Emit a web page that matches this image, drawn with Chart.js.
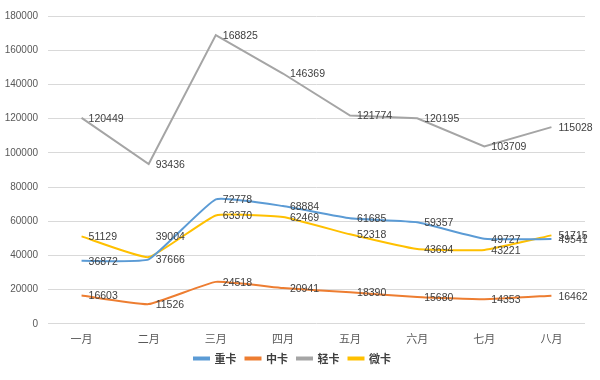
<!DOCTYPE html>
<html>
<head>
<meta charset="utf-8">
<script src="https://cdn.jsdelivr.net/npm/chart.js@4/dist/chart.umd.min.js"></script>
<style>
html,body{margin:0;padding:0;background:#fff;}
#wrap{width:600px;height:380px;}
</style>
</head>
<body>
<div id="wrap"><canvas id="c" width="600" height="380"></canvas></div>
<script>
const months = ['一月','二月','三月','四月','五月','六月','七月','八月'];
const seriesNames = ['重卡','中卡','轻卡','微卡'];
const heavy  = [36872, 37666, 72778, 68884, 61685, 59357, 49727, 49541];
const medium = [16603, 11526, 24518, 20941, 18390, 15680, 14353, 16462];
const light  = [120449, 93436, 168825, 146369, 121774, 120195, 103709, 115028];
const micro  = [51129, 39004, 63370, 62469, 52318, 43694, 43221, 51715];
const yTicks = [0, 20000, 40000, 60000, 80000, 100000, 120000, 140000, 160000, 180000];

const colors = ['#5B9BD5', '#ED7D31', '#A5A5A5', '#FFC000'];
const allSeries = [heavy, medium, light, micro];

const labelPlugin = {
  id: 'valueLabels',
  afterDatasetsDraw(chart) {
    const ctx = chart.ctx;
    ctx.save();
    ctx.font = '10.5px "Liberation Sans", Arial, sans-serif';
    ctx.fillStyle = '#404040';
    ctx.textAlign = 'left';
    ctx.textBaseline = 'middle';
    const nudge = {'3-1': -21};
    chart.data.datasets.forEach((ds, di) => {
      const meta = chart.getDatasetMeta(di);
      meta.data.forEach((pt, i) => {
        const dy = nudge[di + '-' + i] || 0;
        ctx.fillText(String(ds.data[i]), pt.x + 7, pt.y + 1 + dy);
      });
    });
    ctx.restore();
  }
};

new Chart(document.getElementById('c'), {
  type: 'line',
  data: {
    labels: months,
    datasets: allSeries.map((d, i) => ({
      label: seriesNames[i],
      data: d,
      borderColor: colors[i],
      backgroundColor: colors[i],
      borderWidth: 2,
      pointRadius: 0,
      pointHoverRadius: 0,
      tension: i === 2 ? 0 : 0.12,
      fill: false
    }))
  },
  options: {
    responsive: false,
    animation: false,
    devicePixelRatio: 1,
    layout: { padding: { top: 8, right: 15, left: 0, bottom: 6 } },
    plugins: {
      tooltip: { enabled: false },
      legend: {
        position: 'bottom',
        labels: {
          boxWidth: 15,
          boxHeight: 2,
          padding: 9,
          color: '#404040',
          font: { family: '"Noto Sans CJK SC", sans-serif', size: 11, weight: 'bold' }
        }
      }
    },
    scales: {
      x: {
        offset: true,
        afterFit(scale) { scale.height = scale.height - 9; },
        grid: { display: false, drawTicks: false },
        border: { display: false },
        ticks: {
          color: '#595959',
          padding: 8,
          font: { family: '"Noto Sans CJK SC", sans-serif', size: 11 }
        }
      },
      y: {
        min: 0,
        max: 180000,
        afterFit(scale) { scale.width = 48; },
        afterBuildTicks(scale) { scale.ticks = yTicks.map(v => ({ value: v })); },
        grid: { color: '#D9D9D9', lineWidth: 1, drawTicks: false },
        border: { display: false },
        ticks: {
          color: '#595959',
          padding: 10,
          callback: (v) => String(v),
          font: { family: '"Liberation Sans", Arial, sans-serif', size: 10 }
        }
      }
    }
  },
  plugins: [labelPlugin]
});
</script>
</body>
</html>
